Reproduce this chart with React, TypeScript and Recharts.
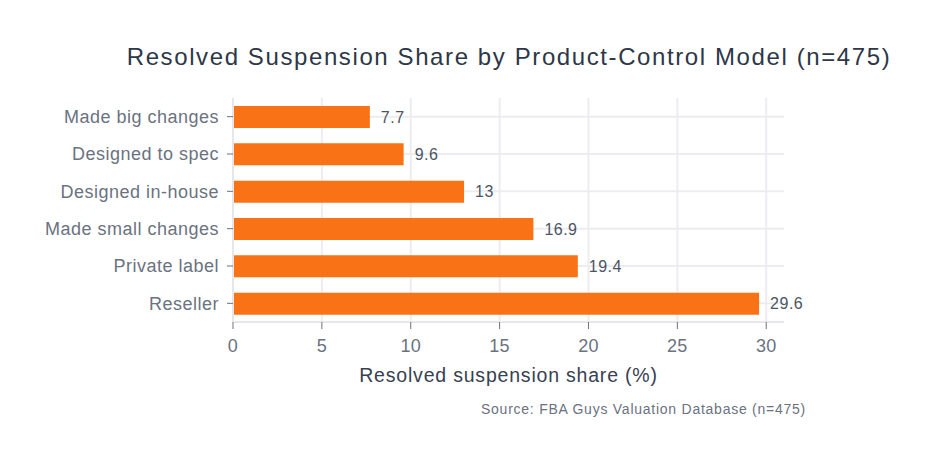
import React from "react";
import { BarChart, Bar, XAxis, YAxis, CartesianGrid, LabelList, Label } from "recharts";

const categories = ["Made big changes", "Designed to spec", "Designed in-house", "Made small changes", "Private label", "Reseller"];
const shares = [7.7, 9.6, 13, 16.9, 19.4, 29.6];
const xTicks = [0, 5, 10, 15, 20, 25, 30];

const data = categories.map((c, i) => ({ name: c, value: shares[i] }));

const FONT = '"Liberation Sans", Arial, Helvetica, sans-serif';

const vGen = (props: any) => {
  try {
    const s = props.xAxis.scale;
    const f = typeof s === "function" ? s : s.map ? (v: number) => s.map(v) : null;
    if (f) return xTicks.slice(1).map((t) => f(t));
  } catch (e) {}
  return [];
};

const hGen = (props: any) => {
  try {
    const s = props.yAxis && props.yAxis.scale;
    if (typeof s === "function" && typeof s.bandwidth === "function") {
      const pts = categories.map((c) => s(c) + s.bandwidth() / 2);
      if (pts.every((p) => Number.isFinite(p))) return pts;
    }
  } catch (e) {}
  const off = props.offset;
  const n = categories.length;
  return categories.map((_, i) => off.top + ((i + 0.5) * off.height) / n);
};

export default function App() {
  return (
    <div style={{ position: "absolute", left: 0, top: 0, width: 934, height: 464, background: "#fff", fontFamily: FONT }}>
      <div style={{ position: "absolute", left: 0, width: 1018, top: 42, textAlign: "center", fontSize: 24, letterSpacing: 1.6, color: "#2d3748", lineHeight: "30px" }}>
        Resolved Suspension Share by Product-Control Model (n=475)
      </div>
      <BarChart
        width={934}
        height={464}
        data={data}
        layout="vertical"
        margin={{ top: 98, right: 150, bottom: 72, left: 0 }}
        barSize={22}
      >
        <CartesianGrid
          stroke="#ececf1"
          strokeWidth={2}
          verticalCoordinatesGenerator={vGen}
          horizontalCoordinatesGenerator={hGen}
        />
        <XAxis
          type="number"
          domain={[0, 31]}
          ticks={xTicks}
          height={70}
          axisLine={{ stroke: "#e5e7eb", strokeWidth: 2 }}
          tickLine={{ stroke: "#6b7280" }}
          tickSize={7}
          tick={{ fill: "#6b7280", fontSize: 18, fontFamily: FONT, letterSpacing: 0.3 }}
          tickMargin={10}
        >
          <Label
            value="Resolved suspension share (%)"
            position="insideBottom"
            offset={10}
            style={{ fill: "#374151", fontSize: 19.5, fontFamily: FONT, letterSpacing: 0.8 }}
          />
        </XAxis>
        <YAxis
          type="category"
          dataKey="name"
          width={233}
          axisLine={{ stroke: "#e5e7eb", strokeWidth: 2 }}
          tickLine={{ stroke: "#6b7280" }}
          tickSize={6}
          tickMargin={8}
          tick={{ fill: "#6b7280", fontSize: 18, fontFamily: FONT, letterSpacing: 0.5 }}
        />
        <Bar dataKey="value" fill="#f97316" isAnimationActive={false}>
          <LabelList dataKey="value" position="right" offset={11} style={{ fill: "#4b5563", fontSize: 16, fontFamily: FONT, letterSpacing: 0.5 }} />
        </Bar>
      </BarChart>
      <div style={{ position: "absolute", right: 128, top: 401, fontSize: 14, letterSpacing: 0.75, color: "#6b7280" }}>
        Source: FBA Guys Valuation Database (n=475)
      </div>
    </div>
  );
}
